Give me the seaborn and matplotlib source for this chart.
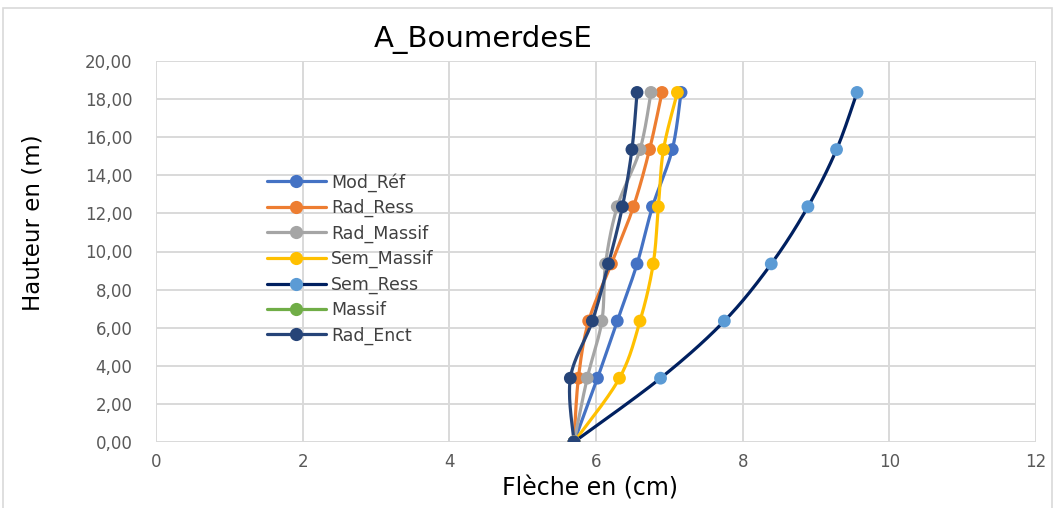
import numpy as np
import pandas as pd
import matplotlib
matplotlib.use("Agg")
import matplotlib.pyplot as plt
from matplotlib.patches import Rectangle
from matplotlib.ticker import FuncFormatter, MultipleLocator
import seaborn as sns

# Storey heights (m) and lateral deflection (cm) for each model variant
hauteur = [0.00, 3.35, 6.35, 9.35, 12.35, 15.35, 18.35]

mod_ref    = [5.70, 6.02, 6.29, 6.56, 6.77, 7.04, 7.16]
rad_ress   = [5.70, 5.76, 5.90, 6.21, 6.51, 6.73, 6.90]
rad_massif = [5.70, 5.88, 6.08, 6.13, 6.29, 6.60, 6.75]
sem_massif = [5.70, 6.32, 6.60, 6.78, 6.85, 6.92, 7.11]
sem_ress   = [5.70, 6.88, 7.75, 8.39, 8.89, 9.28, 9.56]
massif     = [np.nan] * 7
rad_enct   = [5.70, 5.65, 5.95, 6.17, 6.36, 6.49, 6.56]

series_names = ["Mod_Réf", "Rad_Ress", "Rad_Massif", "Sem_Massif",
                "Sem_Ress", "Massif", "Rad_Enct"]
series_vals = [mod_ref, rad_ress, rad_massif, sem_massif,
               sem_ress, massif, rad_enct]

line_colors = ["#4472C4", "#ED7D31", "#A5A5A5", "#FFC000",
               "#002060", "#70AD47", "#264478"]
marker_colors = ["#4472C4", "#ED7D31", "#A5A5A5", "#FFC000",
                 "#5B9BD5", "#70AD47", "#264478"]


def smooth(xs, ys, n=30):
    """Catmull-Rom spline through the points (spreadsheet-style smoothed line)."""
    p = np.column_stack([xs, ys]).astype(float)
    if np.isnan(p).any():
        return np.array([]), np.array([])
    ext = np.vstack([p[0], p, p[-1]])
    out = []
    t = np.linspace(0, 1, n, endpoint=False)[:, None]
    for i in range(1, len(ext) - 2):
        p0, p1, p2, p3 = ext[i - 1], ext[i], ext[i + 1], ext[i + 2]
        seg = 0.5 * ((2 * p1) + (-p0 + p2) * t
                     + (2 * p0 - 5 * p1 + 4 * p2 - p3) * t ** 2
                     + (-p0 + 3 * p1 - 3 * p2 + p3) * t ** 3)
        out.append(seg)
    out.append(p[-1][None, :])
    out = np.vstack(out)
    return out[:, 0], out[:, 1]


sns.set_theme(style="white")
plt.rcParams["font.family"] = ["DejaVu Sans"]

fig = plt.figure(figsize=(10.57, 5.08), dpi=100)
ax = fig.add_axes([156 / 1057, 1 - 442 / 508, (1036 - 156) / 1057, (442 - 61) / 508])

fig.patches.append(Rectangle((3 / 1057, -0.01), 1049 / 1057, 1 - 8 / 508 + 0.01,
                             transform=fig.transFigure, fill=False,
                             edgecolor="#D9D9D9", linewidth=1.2, zorder=0))

for name, vals, lc, mc in zip(series_names, series_vals, line_colors, marker_colors):
    sx, sy = smooth(vals, hauteur)
    curve = pd.DataFrame({"x": sx, "y": sy})
    sns.lineplot(data=curve, x="x", y="y", sort=False, color=lc, linewidth=2.3,
                 ax=ax, legend=False, zorder=3)
    pts = pd.DataFrame({"x": vals, "y": hauteur})
    sns.scatterplot(data=pts, x="x", y="y", color=mc, s=85, edgecolor="none",
                    ax=ax, legend=False, zorder=4)
    ax.plot([], [], color=lc, linewidth=2.3, marker="o", markersize=9.5,
            markerfacecolor=mc, markeredgecolor="none", label=name)

ax.set_xlim(0, 12)
ax.set_ylim(0, 20)
ax.xaxis.set_major_locator(MultipleLocator(2))
ax.yaxis.set_major_locator(MultipleLocator(2))
ax.yaxis.set_major_formatter(FuncFormatter(lambda v, _: f"{v:.2f}".replace(".", ",")))
ax.grid(True, color="#D9D9D9", linewidth=1.4)
ax.set_axisbelow(True)
for s in ax.spines.values():
    s.set_visible(False)
ax.tick_params(axis="both", length=0, labelsize=12, colors="#595959")
ax.tick_params(axis="y", pad=17)
ax.tick_params(axis="x", pad=8)

ax.set_xlabel("Flèche en (cm)", fontsize=17, color="#000000", labelpad=6)
ax.xaxis.set_label_coords((590 - 156) / 880, -0.09)
ax.set_ylabel("Hauteur en (m)", fontsize=16.5, color="#000000")
ax.yaxis.set_label_coords((45 - 156) / 880, (442 - 223) / 381)
fig.text(483 / 1057, 1 - 39 / 508, "A_BoumerdesE", ha="center", va="center",
         fontsize=21, color="#000000")

leg = ax.legend(loc="upper left", bbox_to_anchor=((260 - 156) / 880, (442 - 166) / 381),
                frameon=False, fontsize=12.5, handlelength=3.4, handletextpad=0.3,
                labelspacing=0.42, borderaxespad=0)
for t in leg.get_texts():
    t.set_color("#404040")

fig.savefig("out.png", dpi=100)
